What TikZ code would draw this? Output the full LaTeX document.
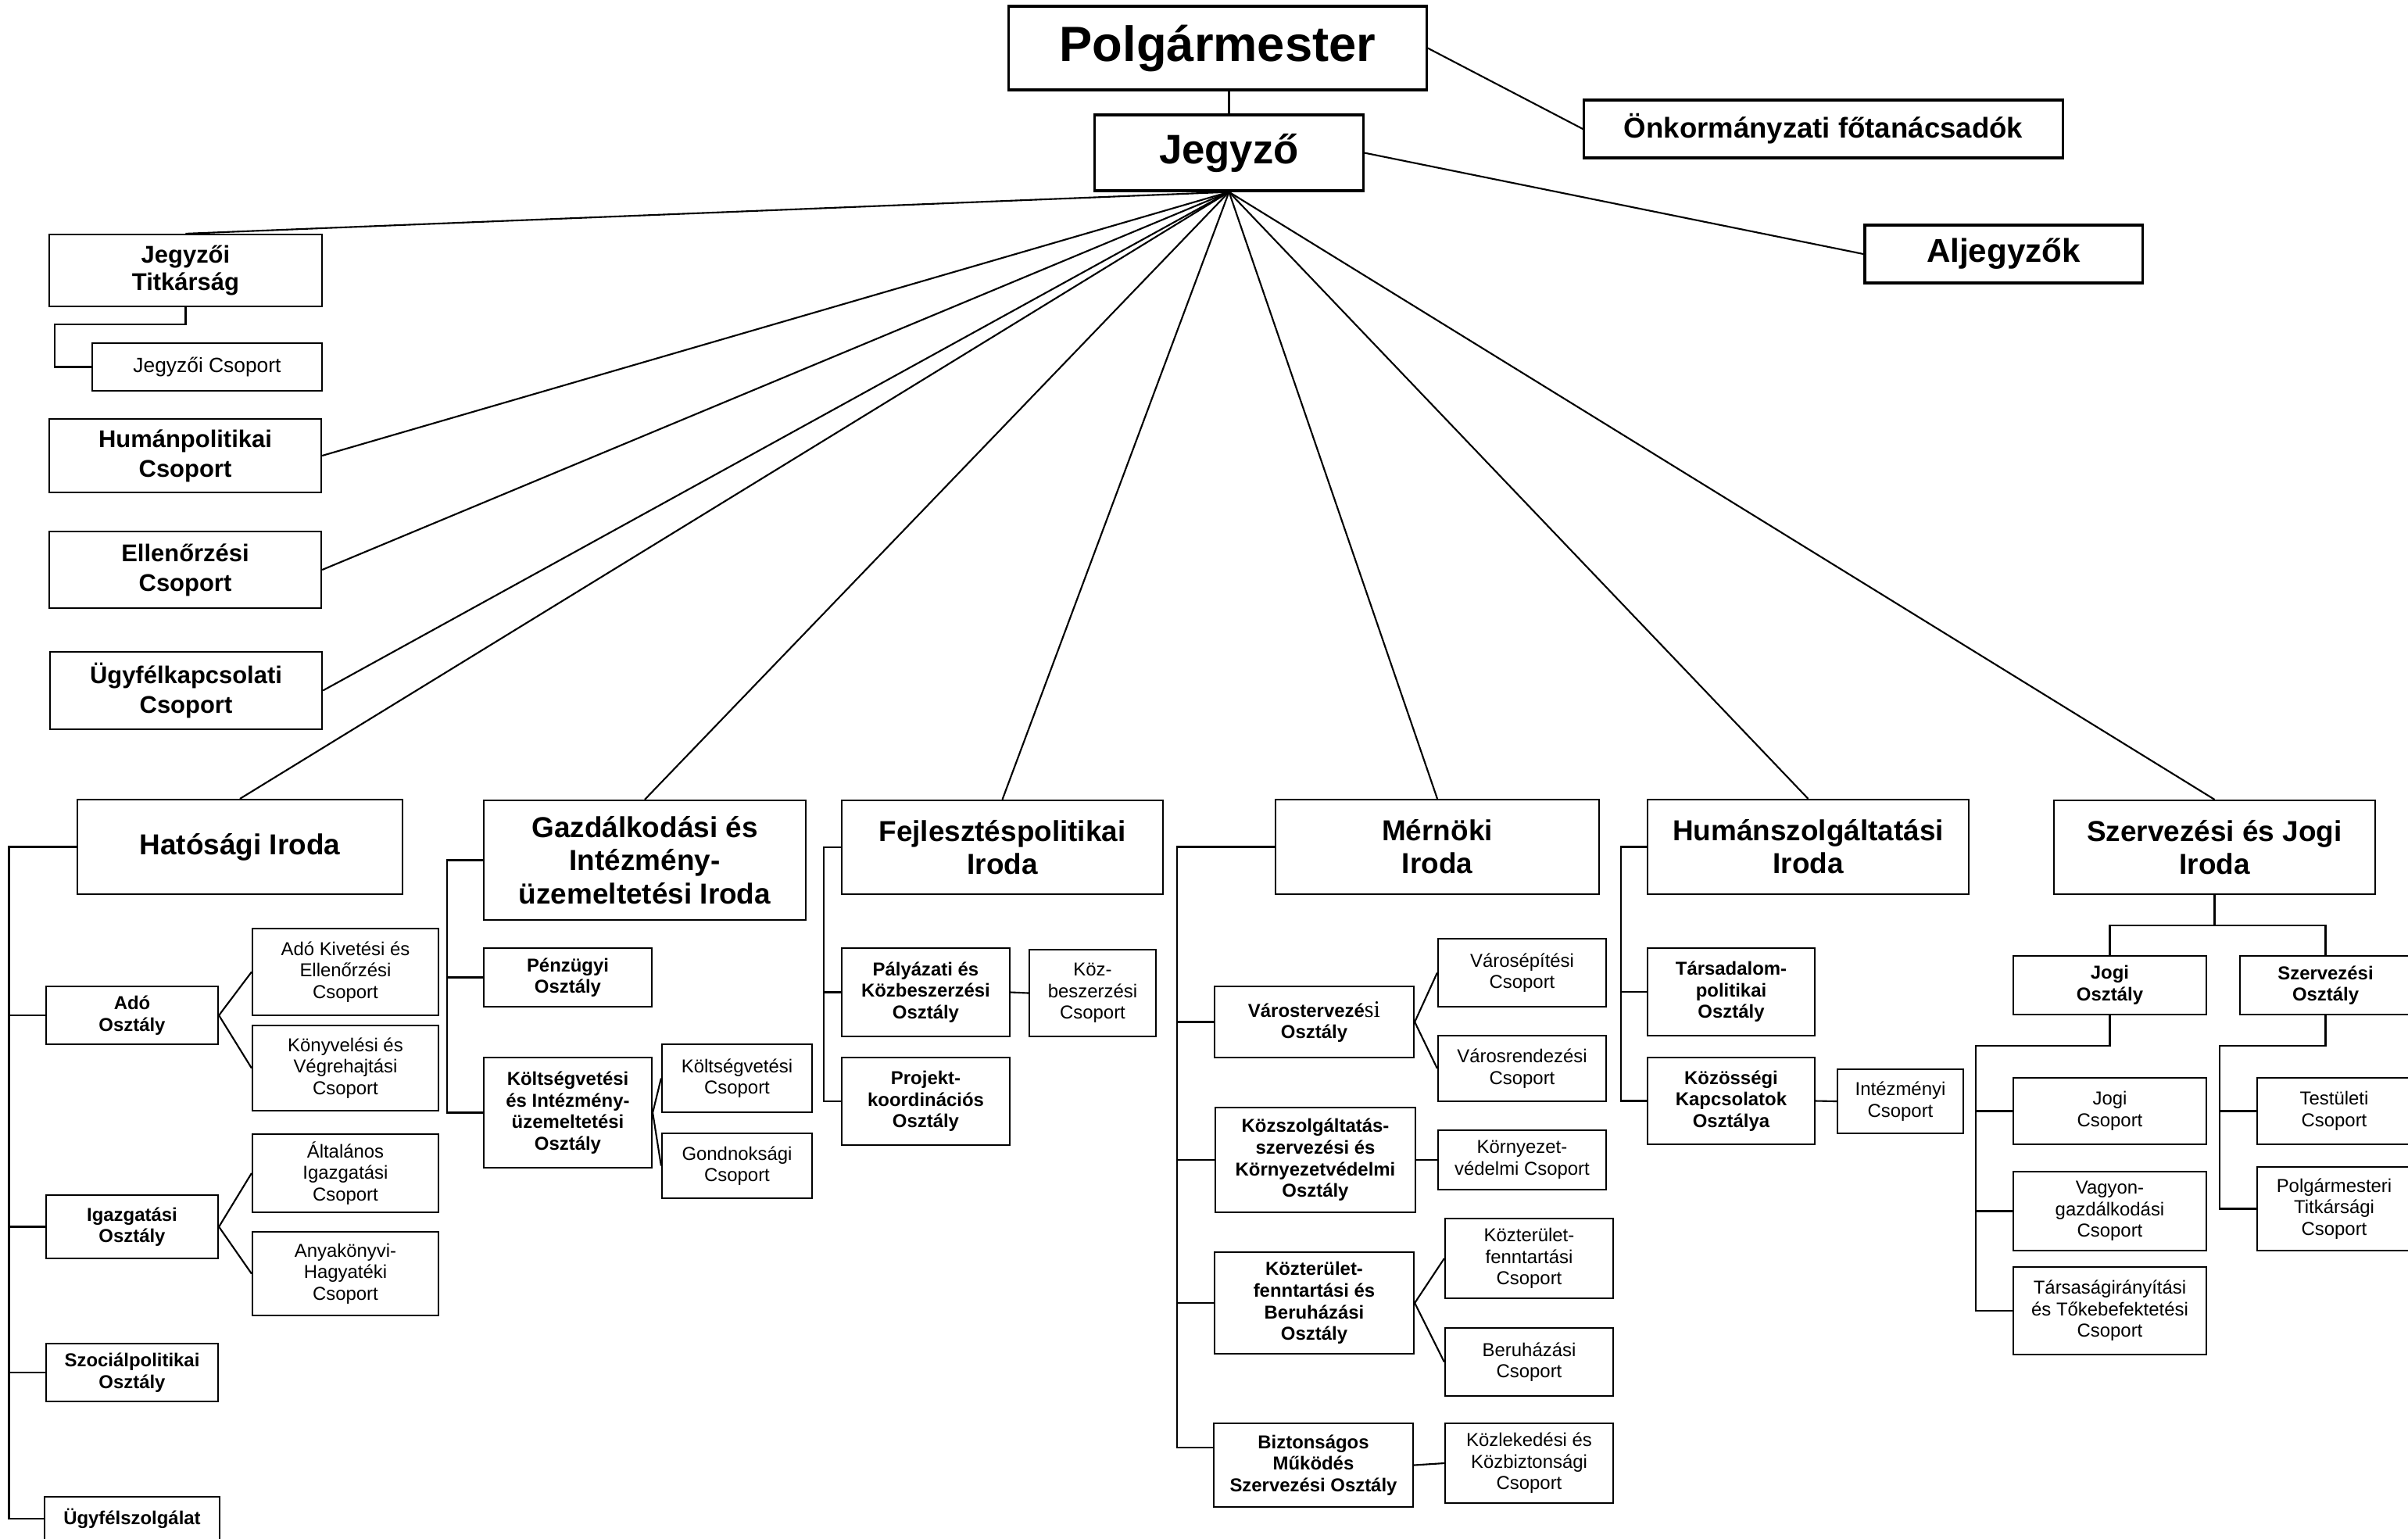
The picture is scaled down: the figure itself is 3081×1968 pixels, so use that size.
\documentclass[tikz,border=0pt]{standalone}
\usepackage{fontspec}
\setmainfont{Liberation Sans}
\newfontfamily\timesfont{Liberation Serif}
\usepackage{tikz}

\begin{document}
\begin{tikzpicture}[x=0.01cm, y=-0.01cm,
	box/.style={draw, line width=0.6pt, rectangle, align=center, inner sep=0pt},
	vezeto/.style={box, line width=0.9pt},
	iroda/.style={box, font=\fontsize{10.5}{12}\selectfont\bfseries},
	osztaly/.style={box, font=\fontsize{6.8}{7.85}\selectfont\bfseries},
	csoport/.style={box, font=\fontsize{6.8}{7.85}\selectfont},
	kozvetlen/.style={box, font=\fontsize{8.8}{10.8}\selectfont\bfseries},
	vonal/.style={line width=0.6pt}]
	
	\useasboundingbox (0,0) rectangle (3081,1968);
	\fill[white] (0,0) rectangle (3081,1968);
	
	% vezetes
	\node[vezeto, minimum width=5.34cm, minimum height=1.07cm, font=\fontsize{18}{21}\selectfont\bfseries] (polg) at (1558,61.5) {Polgármester};
	\node[vezeto, minimum width=3.43cm, minimum height=0.97cm, font=\fontsize{15}{18}\selectfont\bfseries] (jegyzo) at (1572.5,195.5) {Jegyző};
	\node[vezeto, minimum width=6.12cm, minimum height=0.74cm, font=\fontsize{10.4}{12}\selectfont\bfseries] (onk) at (2333,165) {Önkormányzati főtanácsadók};
	\node[vezeto, minimum width=3.55cm, minimum height=0.74cm, font=\fontsize{12}{14}\selectfont\bfseries] (aljegy) at (2563.5,325) {Aljegyzők};
	
	% jegyzo alatti csoportok
	\node[kozvetlen, minimum width=3.49cm, minimum height=0.92cm, font=\fontsize{8.8}{10.2}\selectfont\bfseries] (titk) at (237.5,346) {Jegyzői\\Titkárság};
	\node[csoport, minimum width=2.94cm, minimum height=0.61cm, font=\fontsize{7.5}{9}\selectfont] (jcsop) at (265,469.5) {Jegyzői Csoport};
	\node[kozvetlen, minimum width=3.48cm, minimum height=0.94cm] (human) at (237,583) {Humánpolitikai\\Csoport};
	\node[kozvetlen, minimum width=3.48cm, minimum height=0.98cm] (ellen) at (237,729) {Ellenőrzési\\Csoport};
	\node[kozvetlen, minimum width=3.48cm, minimum height=0.99cm] (ugyel) at (238,883.5) {Ügyfélkapcsolati\\Csoport};
	
	% Hatosagi Iroda
	\node[iroda, minimum width=4.16cm, minimum height=1.21cm] (hat) at (307,1083.5) {Hatósági Iroda};
	\node[osztaly, minimum width=2.2cm, minimum height=0.74cm] (ado) at (169,1299) {Adó\\Osztály};
	\node[csoport, minimum width=2.38cm, minimum height=1.11cm] (adokiv) at (442,1243.5) {Adó Kivetési és\\Ellenőrzési\\Csoport};
	\node[csoport, minimum width=2.38cm, minimum height=1.09cm] (konyv) at (442,1366.5) {Könyvelési és\\Végrehajtási\\Csoport};
	\node[osztaly, minimum width=2.2cm, minimum height=0.81cm] (igazg) at (169,1569.5) {Igazgatási\\Osztály};
	\node[csoport, minimum width=2.38cm, minimum height=1cm] (altal) at (442,1501) {Általános\\Igazgatási\\Csoport};
	\node[csoport, minimum width=2.38cm, minimum height=1.07cm] (anyak) at (442,1629.5) {Anyakönyvi-\\Hagyatéki\\Csoport};
	\node[osztaly, minimum width=2.2cm, minimum height=0.74cm] (szoc) at (169,1756) {Szociálpolitikai\\Osztály};
	\node[osztaly, minimum width=2.24cm, minimum height=0.56cm] (ugyfsz) at (169,1943) {Ügyfélszolgálat};
	
	% Gazdalkodasi Iroda
	\node[iroda, minimum width=4.12cm, minimum height=1.53cm] (gazd) at (825,1100.5) {Gazdálkodási és\\Intézmény-\\üzemeltetési Iroda};
	\node[osztaly, minimum width=2.15cm, minimum height=0.75cm] (penz) at (726.5,1250.5) {Pénzügyi\\Osztály};
	\node[osztaly, minimum width=2.15cm, minimum height=1.41cm] (koltsO) at (726.5,1423.5) {Költségvetési\\és Intézmény-\\üzemeltetési\\Osztály};
	\node[csoport, minimum width=1.92cm, minimum height=0.87cm] (koltsCs) at (943,1379.5) {Költségvetési\\Csoport};
	\node[csoport, minimum width=1.92cm, minimum height=0.83cm] (gondn) at (943,1491.5) {Gondnoksági\\Csoport};
	
	% Fejlesztespolitikai Iroda
	\node[iroda, minimum width=4.11cm, minimum height=1.2cm] (fejl) at (1282.5,1084) {Fejlesztéspolitikai\\Iroda};
	\node[osztaly, minimum width=2.15cm, minimum height=1.13cm] (palyO) at (1184.5,1269.5) {Pályázati és\\Közbeszerzési\\Osztály};
	\node[csoport, minimum width=1.62cm, minimum height=1.11cm] (kozbCs) at (1398,1270.5) {Köz-\\beszerzési\\Csoport};
	\node[osztaly, minimum width=2.15cm, minimum height=1.12cm] (projO) at (1184.5,1409) {Projekt-\\koordinációs\\Osztály};
	
	% Mernoki Iroda
	\node[iroda, minimum width=4.14cm, minimum height=1.21cm] (mern) at (1839,1083.5) {Mérnöki\\Iroda};
	\node[osztaly, minimum width=2.55cm, minimum height=0.91cm] (vtervO) at (1681.5,1307.5) {Várostervezé{\timesfont\mdseries\fontsize{8.6}{7.85}\selectfont si}\\Osztály};
	\node[csoport, minimum width=2.15cm, minimum height=0.87cm] (vepCs) at (1947.5,1244.5) {Városépítési\\Csoport};
	\node[csoport, minimum width=2.15cm, minimum height=0.84cm] (vrendCs) at (1947.5,1367) {Városrendezési\\Csoport};
	\node[osztaly, minimum width=2.56cm, minimum height=1.34cm] (kozszO) at (1683,1484) {Közszolgáltatás-\\szervezési és\\Környezetvédelmi\\Osztály};
	\node[csoport, minimum width=2.15cm, minimum height=0.76cm] (kornyCs) at (1947.5,1484) {Környezet-\\védelmi Csoport};
	\node[osztaly, minimum width=2.55cm, minimum height=1.3cm] (kozterO) at (1681.5,1667) {Közterület-\\fenntartási és\\Beruházási\\Osztály};
	\node[csoport, minimum width=2.15cm, minimum height=1.02cm] (kozterCs) at (1956.5,1610) {Közterület-\\fenntartási\\Csoport};
	\node[csoport, minimum width=2.15cm, minimum height=0.87cm] (beruhCs) at (1956.5,1742.5) {Beruházási\\Csoport};
	\node[osztaly, minimum width=2.55cm, minimum height=1.07cm] (biztO) at (1680.5,1874.5) {Biztonságos\\Működés\\Szervezési Osztály};
	\node[csoport, minimum width=2.15cm, minimum height=1.02cm] (kozlCs) at (1956.5,1872) {Közlekedési és\\Közbiztonsági\\Csoport};
	
	% Humanszolgaltatasi Iroda
	\node[iroda, minimum width=4.11cm, minimum height=1.21cm] (humsz) at (2313.5,1083.5) {Humánszolgáltatási\\Iroda};
	\node[osztaly, minimum width=2.14cm, minimum height=1.12cm] (tarsO) at (2215,1269) {Társadalom-\\politikai\\Osztály};
	\node[osztaly, minimum width=2.14cm, minimum height=1.11cm] (kozosO) at (2215,1408.5) {Közösségi\\Kapcsolatok\\Osztálya};
	\node[csoport, minimum width=1.61cm, minimum height=0.82cm] (intCs) at (2431.5,1409) {Intézményi\\Csoport};
	
	% Szervezesi es Jogi Iroda
	\node[iroda, minimum width=4.11cm, minimum height=1.2cm] (szjog) at (2833.5,1084) {Szervezési és Jogi\\Iroda};
	\node[osztaly, minimum width=2.47cm, minimum height=0.75cm] (jogiO) at (2699.5,1260.5) {Jogi\\Osztály};
	\node[osztaly, minimum width=2.19cm, minimum height=0.75cm] (szervO) at (2975.5,1260.5) {Szervezési\\Osztály};
	\node[csoport, minimum width=2.47cm, minimum height=0.85cm] (jogiCs) at (2699.5,1421.5) {Jogi\\Csoport};
	\node[csoport, minimum width=2.47cm, minimum height=1.01cm] (vagyCs) at (2699.5,1549.5) {Vagyon-\\gazdálkodási\\Csoport};
	\node[csoport, minimum width=2.47cm, minimum height=1.12cm] (tarsCs) at (2699.5,1677) {Társaságirányítási\\és Tőkebefektetési\\Csoport};
	\node[csoport, minimum width=1.97cm, minimum height=0.85cm] (testCs) at (2986.5,1421.5) {Testületi\\Csoport};
	\node[csoport, minimum width=1.97cm, minimum height=1.07cm] (polgtCs) at (2986.5,1546.5) {Polgármesteri\\Titkársági\\Csoport};
	
	% vonalak a vezetestol
	\draw[vonal] (polg.south -| jegyzo.north) -- (jegyzo.north);
	\draw[vonal] (polg.east) -- (onk.west);
	\draw[vonal] (jegyzo.east) -- (aljegy.west);
	\foreach \cel in {titk.north, human.east, ellen.east, ugyel.east, hat.north, gazd.north, fejl.north, mern.north, humsz.north, szjog.north}
		\draw[vonal] (jegyzo.south) -- (\cel);
	
	\coordinate (titkbus) at (70,415);
	\draw[vonal] (titk.south) |- (titkbus) |- (jcsop.west);
	
	% Hatosagi
	\coordinate (hatbus) at (11.5,1083.5);
	\draw[vonal] (hat.west) -- (hatbus) |- (ugyfsz.west);
	\foreach \o in {ado, igazg, szoc}
		\draw[vonal] (hatbus |- \o.west) -- (\o.west);
	\foreach \cs in {adokiv, konyv}
		\draw[vonal] (ado.east) -- (\cs.west);
	\foreach \cs in {altal, anyak}
		\draw[vonal] (igazg.east) -- (\cs.west);
	
	% Gazdalkodasi
	\coordinate (gazdbus) at (572,1100.5);
	\draw[vonal] (gazd.west) -- (gazdbus) |- (koltsO.west);
	\draw[vonal] (gazdbus |- penz.west) -- (penz.west);
	\draw[vonal] (koltsO.east) -- (koltsCs.west);
	\draw[vonal] (koltsO.east) -- (gondn.west);
	
	% Fejlesztespolitikai
	\coordinate (fejlbus) at (1054,1084);
	\draw[vonal] (fejl.west) -- (fejlbus) |- (projO.west);
	\draw[vonal] (fejlbus |- palyO.west) -- (palyO.west);
	\draw[vonal] (palyO.east) -- (kozbCs.west);
	
	% Mernoki
	\coordinate (mernbus) at (1506,1083.5);
	\draw[vonal] (mern.west) -- (mernbus) |- (biztO.170);
	\foreach \o in {vtervO, kozszO, kozterO}
		\draw[vonal] (mernbus |- \o.west) -- (\o.west);
	\draw[vonal] (vtervO.east) -- (vepCs.west);
	\draw[vonal] (vtervO.east) -- (vrendCs.west);
	\draw[vonal] (kozszO.east) -- (kornyCs.west);
	\draw[vonal] (kozterO.east) -- (kozterCs.west);
	\draw[vonal] (kozterO.east) -- (beruhCs.west);
	\draw[vonal] (biztO.east) -- (kozlCs.west);
	
	% Humanszolgaltatasi
	\coordinate (humbus) at (2074,1083.5);
	\draw[vonal] (humsz.west) -- (humbus) |- (kozosO.west);
	\draw[vonal] (humbus |- tarsO.west) -- (tarsO.west);
	\draw[vonal] (kozosO.east) -- (intCs.west);
	
	% Szervezesi es Jogi
	\coordinate (szjogbus) at (2833.5,1184);
	\draw[vonal] (szjog.south) -- (szjogbus);
	\draw[vonal] (jogiO.north) |- (szjogbus) -| (szervO.north);
	\coordinate (jogibus) at (2528,1338);
	\draw[vonal] (jogiO.south) |- (jogibus) |- (tarsCs.west);
	\foreach \cs in {jogiCs, vagyCs}
		\draw[vonal] (jogibus |- \cs.west) -- (\cs.west);
	\coordinate (szervbus) at (2840,1338);
	\draw[vonal] (szervO.south) |- (szervbus) |- (polgtCs.west);
	\draw[vonal] (szervbus |- testCs.west) -- (testCs.west);
	
\end{tikzpicture}
\end{document}
